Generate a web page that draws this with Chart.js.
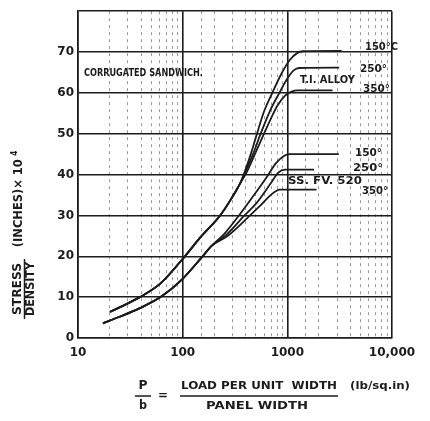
<!DOCTYPE html>
<html>
<head>
<meta charset="utf-8">
<script src="https://cdn.jsdelivr.net/npm/chart.js@4"></script>
<style>
  html, body { margin: 0; padding: 0; background: #fff; }
  canvas { display: block; }
</style>
</head>
<body>
<canvas id="stressChart" width="430" height="421"></canvas>
<script>
// ========== data ==========
// x: P/b load per unit width (lb/sq.in), y: stress/density (inches x 10^4)
const xTickLabels = { 10: '10', 100: '100', 1000: '1000', 10000: '10,000' };

// Ti alloy curves run as one line at low load
const tiBaseLoad = [20.2, 28, 39, 61, 105, 146, 228, 290, 353];
const tiBaseStress = [6.4, 8.1, 10, 13.3, 20, 24.5, 30, 34, 37.8];
const ti150Load = [393, 450, 507, 600, 719, 870, 1050, 1250, 1400, 3300];
const ti150Stress = [40.8, 45.2, 49.6, 55.5, 60, 64.5, 68, 69.8, 70.2, 70.3];
const ti250Load = [400, 470, 548, 680, 839, 1000, 1150, 1300, 3130];
const ti250Stress = [40.8, 45, 49.6, 55.5, 60, 63.5, 65.5, 66.1, 66.2];
const ti350Load = [410, 490, 589, 700, 800, 957, 1100, 1245, 2700];
const ti350Stress = [40.6, 45, 49.6, 53.8, 56.8, 59.4, 60.3, 60.6, 60.6];

// S.S. FV.520 curves
const ssBaseLoad = [17.3, 25, 39, 63, 100, 155, 190];
const ssBaseStress = [3.6, 5.2, 7.3, 10.2, 14.5, 20, 22.6];
const ss150Load = [250, 345, 480, 620, 780, 920, 1050, 3100];
const ss150Stress = [25.5, 30, 35, 39, 42.8, 44.5, 45, 45];
const ss250Load = [260, 390, 507, 700, 820, 950, 1800];
const ss250Stress = [25.2, 30, 33, 38, 40.5, 41.2, 41.2];
const ss350Load = [270, 440, 541, 680, 760, 839, 1900];
const ss350Stress = [25, 30, 32.2, 34.8, 35.8, 36.3, 36.3];

function curve(baseX, baseY, xs, ys) {
  const pts = [];
  baseX.forEach((x, i) => pts.push({ x: x, y: baseY[i] }));
  xs.forEach((x, i) => pts.push({ x: x, y: ys[i] }));
  return pts;
}

const INK = '#1c1c1c';
const FONT = "'DejaVu Sans', sans-serif";

// notes on the plot: left edge + middle in data units, width in px
const notes = [
  { text: 'CORRUGATED SANDWICH.', x: 11.4, y: 64.8, w: 119 },
  { text: '150°C', x: 5520, y: 71.2, w: 33 },
  { text: '250°', x: 4940, y: 65.8, w: 27 },
  { text: 'T.I. ALLOY', x: 1321, y: 63.1, w: 55 },
  { text: '350°', x: 5280, y: 61.0, w: 27 },
  { text: '150°', x: 4430, y: 45.2, w: 27 },
  { text: '250°', x: 4240, y: 41.5, w: 30 },
  { text: 'SS. FV. 520', x: 1015, y: 38.5, w: 74 },
  { text: '350°', x: 5170, y: 35.9, w: 26 }
];

function fitText(ctx, text, x, y, w, size, align) {
  ctx.font = 'bold ' + size + 'px ' + FONT;
  const m = ctx.measureText(text).width;
  const k = w / m;
  ctx.save();
  ctx.translate(x, y);
  ctx.scale(k, 1);
  ctx.textAlign = align || 'left';
  ctx.textBaseline = 'middle';
  ctx.fillText(text, 0, 0);
  ctx.restore();
}

const isMajor = v => Math.abs(Math.log10(v) - Math.round(Math.log10(v))) < 1e-6;

const textPlugin = {
  id: 'texts',
  beforeDraw(chart) {
    const c = chart.ctx;
    c.save();
    c.fillStyle = '#fff';
    c.fillRect(0, 0, chart.width, chart.height);
    c.restore();
  },
  afterDraw(chart) {
    const c = chart.ctx;
    const xs = chart.scales.x, ys = chart.scales.y;
    const a = chart.chartArea;
    c.save();
    c.fillStyle = INK;
    c.strokeStyle = INK;

    notes.forEach(n => {
      fitText(c, n.text, xs.getPixelForValue(n.x), ys.getPixelForValue(n.y), n.w, 11);
    });

    // y axis title, rotated
    c.save();
    c.translate(18, ys.getPixelForValue(12));
    c.rotate(-Math.PI / 2);
    fitText(c, 'STRESS', 0, 0, 52, 12, 'center');
    fitText(c, 'DENSITY', 0, 13, 54, 12, 'center');
    c.lineWidth = 1.5;
    c.beginPath();
    c.moveTo(-30, 6.5);
    c.lineTo(30, 6.5);
    c.stroke();
    c.restore();

    c.save();
    c.translate(19, ys.getPixelForValue(33));
    c.rotate(-Math.PI / 2);
    fitText(c, '(INCHES)× 10', 0, 0, 88, 12, 'center');
    fitText(c, '4', 50, -4, 5, 8, 'center');
    c.restore();

    // x axis title as a fraction
    const ty = a.bottom + 48, by = a.bottom + 68, ly = a.bottom + 58;
    fitText(c, 'P', 143, ty, 9, 12, 'center');
    fitText(c, 'b', 143, by, 8, 12, 'center');
    c.lineWidth = 1.5;
    c.beginPath();
    c.moveTo(135, ly); c.lineTo(151, ly);
    c.moveTo(180, ly); c.lineTo(338, ly);
    c.stroke();
    fitText(c, '=', 163, ly, 10, 12, 'center');
    fitText(c, 'LOAD PER UNIT  WIDTH', 259, ty, 156, 11, 'center');
    fitText(c, 'PANEL WIDTH', 257, by, 102, 11, 'center');
    fitText(c, '(lb/sq.in)', 380, ty, 60, 11, 'center');
    c.restore();
  }
};

const lineStyle = { borderColor: INK, borderWidth: 1.8, pointRadius: 0, showLine: true, fill: false, cubicInterpolationMode: 'monotone' };

new Chart(document.getElementById('stressChart'), {
  type: 'scatter',
  data: {
    datasets: [
      Object.assign({ label: 'Ti 150', data: curve(tiBaseLoad, tiBaseStress, ti150Load, ti150Stress) }, lineStyle),
      Object.assign({ label: 'Ti 250', data: curve(tiBaseLoad, tiBaseStress, ti250Load, ti250Stress) }, lineStyle),
      Object.assign({ label: 'Ti 350', data: curve(tiBaseLoad, tiBaseStress, ti350Load, ti350Stress) }, lineStyle),
      Object.assign({ label: 'SS 150', data: curve(ssBaseLoad, ssBaseStress, ss150Load, ss150Stress) }, lineStyle),
      Object.assign({ label: 'SS 250', data: curve(ssBaseLoad, ssBaseStress, ss250Load, ss250Stress) }, lineStyle),
      Object.assign({ label: 'SS 350', data: curve(ssBaseLoad, ssBaseStress, ss350Load, ss350Stress) }, lineStyle)
    ]
  },
  options: {
    responsive: false,
    animation: false,
    devicePixelRatio: 1,
    layout: { padding: { left: 0, right: 38, top: 9, bottom: 0 } },
    plugins: { legend: { display: false }, tooltip: { enabled: false } },
    scales: {
      x: {
        type: 'logarithmic',
        min: 10,
        max: 10000,
        afterFit(s) { s.height = 83; },
        grid: {
          drawTicks: false,
          color: ctx => (ctx.tick && isMajor(ctx.tick.value)) ? INK : '#9a9a9a',
          lineWidth: ctx => (ctx.tick && isMajor(ctx.tick.value)) ? 1.6 : 1
        },
        border: {
          color: INK,
          width: 1.6,
          dash: ctx => (ctx.tick && !isMajor(ctx.tick.value)) ? [3, 4] : []
        },
        ticks: {
          autoSkip: false,
          maxRotation: 0,
          padding: 8,
          color: INK,
          font: { family: FONT, size: 12, weight: 'bold' },
          callback: v => xTickLabels[v] || ''
        }
      },
      y: {
        min: 0,
        max: 80,
        afterFit(s) { s.width = 78; },
        grid: { drawTicks: false, color: INK, lineWidth: 1.5 },
        border: { color: INK, width: 1.6 },
        ticks: {
          stepSize: 10,
          padding: 4,
          color: INK,
          font: { family: FONT, size: 12, weight: 'bold' },
          callback: v => v === 80 ? '' : String(v)
        }
      }
    }
  },
  plugins: [textPlugin]
});
</script>
</body>
</html>
